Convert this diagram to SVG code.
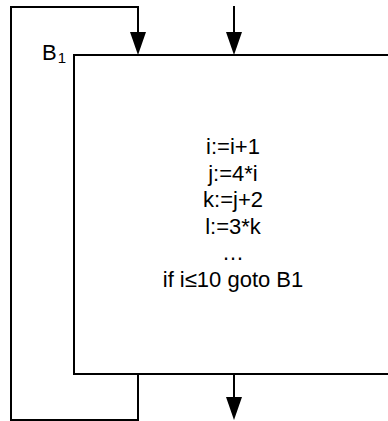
<svg xmlns="http://www.w3.org/2000/svg" width="388" height="421" viewBox="0 0 388 421">
<style>
.ln{fill:none;stroke:#000;stroke-width:2}
.ah{fill:#000;stroke:none}
text{font-family:"Liberation Sans",Arial,sans-serif;font-size:22px;fill:#000}
.c{text-anchor:middle}
</style>
<rect width="388" height="421" fill="#fff"/>
<g id="connectors">
<polyline class="ln" points="138,374 138,420 11,420 11,7 138,7 138,34"/>
<polygon class="ah" points="130,32 146,32 138,55"/>
<line class="ln" x1="234" y1="6" x2="234" y2="34"/>
<polygon class="ah" points="226,32 242,32 234,55"/>
<line class="ln" x1="234" y1="374" x2="234" y2="399"/>
<polygon class="ah" points="226,397 242,397 234,420"/>
</g>
<g id="B1">
<polyline class="ln" points="390,55 74,55 74,374 390,374"/>
<text x="42" y="60" font-size="23">B<tspan font-size="15" dx="1" dy="3">1</tspan></text>
<text class="c" x="233" y="154">i:=i+1</text>
<text class="c" x="233" y="181">j:=4*i</text>
<text class="c" x="233" y="207">k:=j+2</text>
<text class="c" x="233" y="234">l:=3*k</text>
<text class="c" x="233" y="260">…</text>
<text class="c" x="233" y="287">if i≤10 goto B1</text>
</g>
</svg>
